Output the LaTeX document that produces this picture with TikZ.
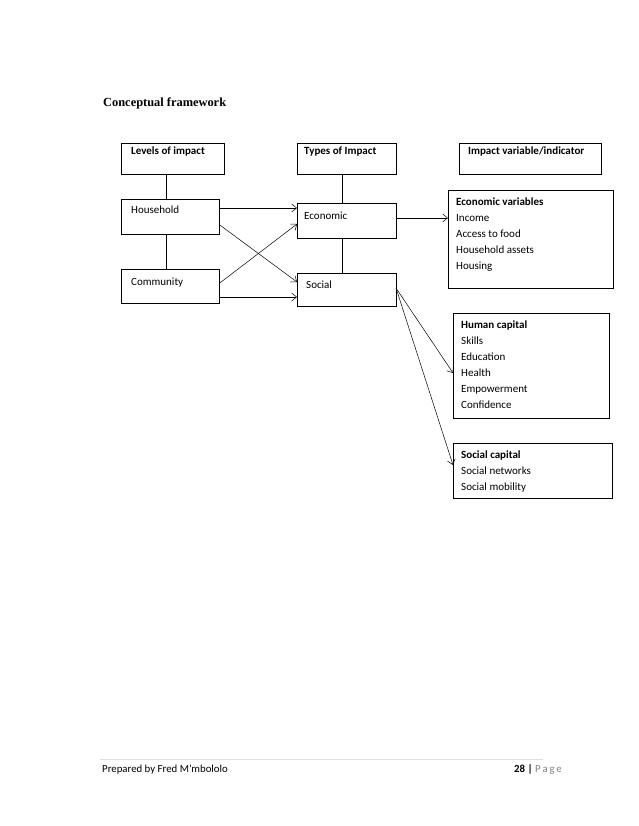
\documentclass[tikz,border=0pt]{standalone}
\usepackage{fontspec}
\setmainfont{Carlito}
\newfontfamily\serifbold{Liberation Serif}
\usetikzlibrary{arrows.meta}
\begin{document}
\begin{tikzpicture}[x=1pt,y=-1pt,
  boxst/.style={draw=black,line width=0.8pt,inner sep=0pt,anchor=north west},
  txt/.style={anchor=base west,inner sep=0pt,font=\fontsize{11}{16}\selectfont},
  mtxt/.style={anchor=north west,inner sep=0pt,align=left,font=\fontsize{11}{16}\selectfont},
  conn/.style={line width=0.5pt},
  arr/.style={line width=0.5pt,-{Straight Barb[length=5pt,width=8pt]}}]
\useasboundingbox (0,0) rectangle (638,826);
% boxes
\node[boxst,minimum width=103pt,minimum height=31pt] (lev) at (121,143) {};
\node[boxst,minimum width=99pt,minimum height=31pt] (typ) at (297,143) {};
\node[boxst,minimum width=142pt,minimum height=31pt] (ind) at (459,143) {};
\node[boxst,minimum width=98pt,minimum height=35pt] (hh) at (121,199) {};
\node[boxst,minimum width=98pt,minimum height=34pt] (com) at (121,269) {};
\node[boxst,minimum width=99pt,minimum height=35pt] (eco) at (297,203) {};
\node[boxst,minimum width=99pt,minimum height=33pt] (soc) at (297,273) {};
\node[boxst,minimum width=165pt,minimum height=98pt] (ecv) at (448,190) {};
\node[boxst,minimum width=156pt,minimum height=105pt] (hum) at (453,313) {};
\node[boxst,minimum width=159pt,minimum height=55pt] (scap) at (453,443) {};
% texts
\node[anchor=base west,inner sep=0pt,font=\serifbold\bfseries\fontsize{12.4}{14}\selectfont] (title) at (103,107) {Conceptual framework};
\node[txt,font=\bfseries\fontsize{11}{16}\selectfont] (tlev) at (131,155) {Levels of impact};
\node[txt,font=\bfseries\fontsize{11}{16}\selectfont] (ttyp) at (304,155) {Types of Impact};
\node[txt,font=\bfseries\fontsize{11}{16}\selectfont] (tind) at (468,155) {Impact variable/indicator};
\node[txt] (thh) at (131,214) {Household};
\node[txt] (teco) at (304,219) {Economic};
\node[txt] (tcom) at (131,285) {Community};
\node[txt] (tsoc) at (306,288) {Social};
\node[mtxt] (tecv) at (456,197.3) {\textbf{Economic variables}\\Income\\Access to food\\Household assets\\Housing};
\node[mtxt] (thum) at (461,320.3) {\textbf{Human capital}\\Skills\\Education\\Health\\Empowerment\\Confidence};
\node[mtxt] (tscap) at (461,450.3) {\textbf{Social capital}\\Social networks\\Social mobility};
% connectors
\draw[conn] (lev.south -| 166,0) -- (hh.north -| 166,0);
\draw[conn] (hh.south -| 166,0) -- (com.north -| 166,0);
\draw[conn] (typ.south -| 342,0) -- (eco.north -| 342,0);
\draw[conn] (eco.south -| 342,0) -- (soc.north -| 342,0);
\draw[arr] (hh.east |- 0,208) -- (eco.west |- 0,208);
\draw[arr] (hh.east |- 0,225) -- (soc.west |- 0,282);
\draw[arr] (com.east |- 0,283) -- (eco.west |- 0,224);
\draw[arr] (com.east |- 0,297) -- (soc.west |- 0,297);
\draw[arr] (eco.east |- 0,218) -- (ecv.west |- 0,218);
\coordinate (sfrom) at (396,288);
\draw[arr] (sfrom) -- (hum.west |- 0,373);
\draw[arr] (sfrom) -- (scap.west |- 0,465);
% footer
\draw[gray!25,line width=0.5pt] (100,759) -- (543,759);
\node[anchor=base west,inner sep=0pt,font=\fontsize{10.8}{12}\selectfont] (foot) at (102,772) {Prepared by Fred M’mbololo};
\node[anchor=base east,inner sep=0pt,font=\fontsize{10.8}{12}\selectfont] (page) at (562,772) {\textbf{28 |} \textcolor{gray}{P\,a\,g\,e}};
\end{tikzpicture}
\end{document}
